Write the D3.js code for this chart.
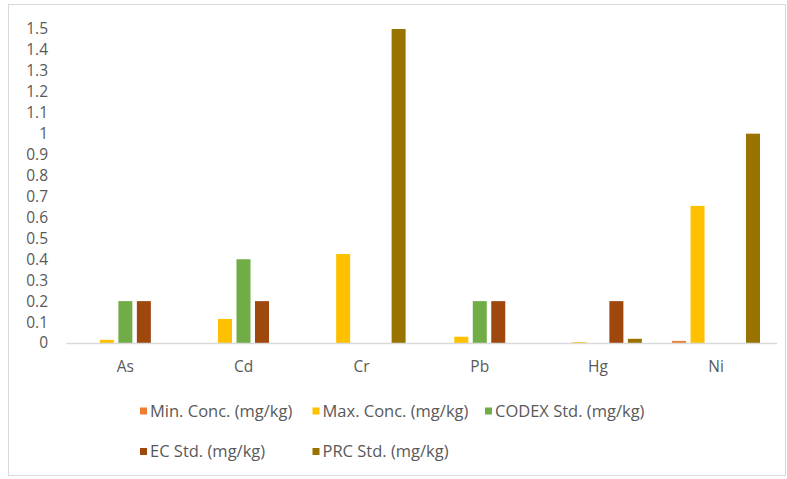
<!DOCTYPE html>
<html>
<head>
<meta charset="utf-8">
<script src="https://cdn.jsdelivr.net/npm/d3@7"></script>
<style>
  html, body { margin: 0; padding: 0; background: #fff; }
  svg { display: block; font-family: "Open Sans", Lato, sans-serif; }
</style>
</head>
<body>
<svg id="chart" width="787" height="479"></svg>
<script>
// Heavy metals: measured concentrations vs. standards (mg/kg)
const categories = ["As", "Cd", "Cr", "Pb", "Hg", "Ni"];
const seriesNames = [
  "Min. Conc. (mg/kg)",
  "Max. Conc. (mg/kg)",
  "CODEX Std. (mg/kg)",
  "EC Std. (mg/kg)",
  "PRC Std. (mg/kg)"
];
const minConc   = [0,     0,    0,    0,    0,     0.01];
const maxConc   = [0.015, 0.115, 0.425, 0.03, 0.004, 0.655];
const codexStd  = [0.2,   0.4,  0,    0.2,  0,     0];
const ecStd     = [0.2,   0.2,  0,    0.2,  0.2,   0];
const prcStd    = [0,     0,    1.5,  0,    0.02,  1.0];
const yTicks = [0, 0.1, 0.2, 0.3, 0.4, 0.5, 0.6, 0.7, 0.8, 0.9, 1, 1.1, 1.2, 1.3, 1.4, 1.5];

const seriesValues = [minConc, maxConc, codexStd, ecStd, prcStd];
const colors = ["#ED7D31", "#FFC000", "#70AD47", "#9E480E", "#997300"];

const svg = d3.select("#chart");
const textColor = "#595959";
const fontSize = "15.5px";

// outer chart frame
svg.append("rect")
  .attr("x", 8.5).attr("y", 4.5)
  .attr("width", 777).attr("height", 471)
  .attr("fill", "#fff").attr("stroke", "#d9d9d9");

const plot = { left: 66.3, right: 775.1, top: 29, bottom: 343 };

const x0 = d3.scaleBand().domain(categories).range([plot.left, plot.right]).padding(0);
const x1 = d3.scaleBand().domain(seriesNames).range([0, x0.bandwidth()])
  .paddingInner(0.243).paddingOuter(0.816);
const y = d3.scaleLinear().domain([0, 1.5]).range([plot.bottom, plot.top]);

// y axis: labels only
const yAxis = d3.axisLeft(y).tickValues(yTicks).tickSize(0).tickPadding(0)
  .tickFormat(d => d3.format("~g")(d));
const gy = svg.append("g").attr("transform", `translate(48,0)`).call(yAxis);
gy.select(".domain").remove();
gy.selectAll("text").attr("fill", textColor).style("font-size", fontSize)
  .style("font-family", "'Open Sans', sans-serif");

// bars
const rows = categories.map((c, i) => ({
  cat: c,
  vals: seriesNames.map((s, j) => ({ s, j, v: seriesValues[j][i] }))
}));

const groups = svg.append("g").selectAll("g").data(rows).join("g")
  .attr("transform", d => `translate(${x0(d.cat)},0)`);
groups.selectAll("rect").data(d => d.vals.filter(e => e.v > 0)).join("rect")
  .attr("x", e => x1(e.s))
  .attr("width", x1.bandwidth())
  .attr("y", e => y(e.v))
  .attr("height", e => y(0) - y(e.v))
  .attr("fill", e => colors[e.j]);

// category axis
const xAxis = d3.axisBottom(x0).tickSize(0).tickPadding(18);
const gx = svg.append("g").attr("transform", `translate(0,${plot.bottom})`).call(xAxis);
gx.select(".domain").attr("stroke", "#d9d9d9").attr("stroke-width", 1.3)
  .attr("d", `M${plot.left},0.5H${plot.right + 2}`);
gx.selectAll("text").attr("fill", textColor).style("font-size", fontSize)
  .style("font-family", "'Open Sans', sans-serif");

// legend (two rows)
const legendPos = seriesNames.map((s, i) => ({
  s, i,
  col: i < 3 ? i : i - 3,
  row: i < 3 ? 0 : 1
}));
const legend = svg.append("g").selectAll("g").data(legendPos).join("g")
  .attr("transform", d => `translate(${140 + d.col * 172.5},${411 + d.row * 40.5})`);
legend.append("rect")
  .attr("x", 0).attr("y", -3.5).attr("width", 7).attr("height", 7)
  .attr("fill", d => colors[d.i]);
legend.append("text")
  .attr("x", 10).attr("y", 0).attr("dy", "0.35em")
  .attr("fill", textColor).style("font-size", "16.5px")
  .text(d => d.s);
</script>
</body>
</html>
